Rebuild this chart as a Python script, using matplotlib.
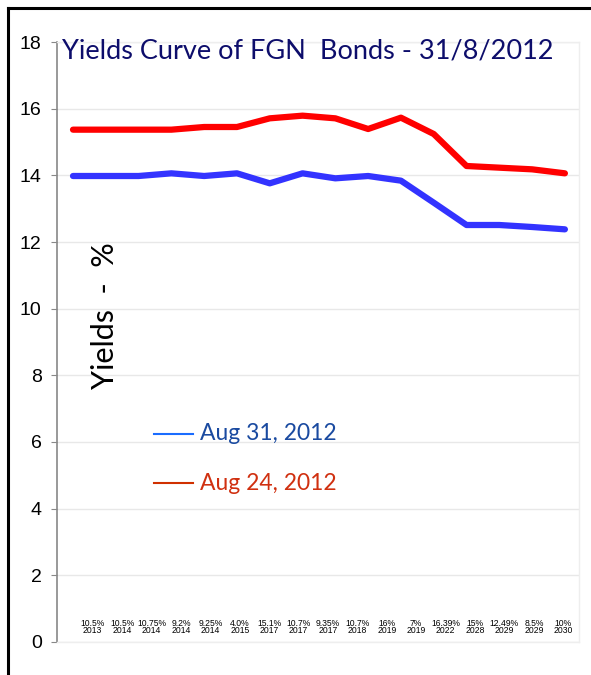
import matplotlib
matplotlib.use("Agg")
import matplotlib.pyplot as plt
from matplotlib.lines import Line2D

# yields, one point per bond
aug31 = [13.98, 13.98, 13.98, 14.06, 13.98, 14.06, 13.76, 14.06,
         13.91, 13.98, 13.84, 13.18, 12.51, 12.51, 12.45, 12.38]
aug24 = [15.37, 15.37, 15.37, 15.37, 15.45, 15.45, 15.71, 15.79,
         15.71, 15.39, 15.73, 15.24, 14.28, 14.23, 14.18, 14.06]

bond_labels = ["10.5%\n2013", "10.5%\n2014", "10.75%\n2014", "9.2%\n2014",
               "9.25%\n2014", "4.0%\n2015", "15.1%\n2017", "10.7%\n2017",
               "9.35%\n2017", "10.7%\n2018", "16%\n2019", "7%\n2019",
               "16.39%\n2022", "15%\n2028", "12.49%\n2029", "8.5%\n2029",
               "10%\n2030"]

yticks = [0, 2, 4, 6, 8, 10, 12, 14, 16, 18]

fig = plt.figure(figsize=(5.91, 6.75), dpi=100)
ax = fig.add_axes([57/591, 33/675, 522/591, 600/675])

x = list(range(len(aug31)))
ax.plot(x, aug31, color="#3333ff", lw=4.5, solid_capstyle="round")
ax.plot(x, aug24, color="#ff0000", lw=4.5, solid_capstyle="round")

ax.set_xlim(-0.488, 15.43)
ax.set_ylim(0, 18)
ax.set_yticks(yticks)
ax.set_yticklabels([str(t) for t in yticks], fontsize=14, family="Liberation Sans")
ax.set_xticks([])
ax.grid(axis="y", color="#e8e8e8", lw=1)
ax.set_axisbelow(True)
for s in ["top", "right", "bottom"]:
    ax.spines[s].set_color("#eeeeee")
    ax.spines[s].set_linewidth(1)
ax.spines["left"].set_color("#888888")
ax.spines["left"].set_linewidth(1.2)
ax.tick_params(axis="y", length=4, color="#888888", pad=7)

# bond labels along the bottom
n = len(bond_labels)
for i, lab in enumerate(bond_labels):
    xp = 0.6 + i * (14.95 - 0.6) / (n - 1)
    ax.text(xp, 0.45, lab, ha="center", va="center", fontsize=6.2,
            family="Liberation Sans", linespacing=0.85)

# y label inside the plot
ax.text(0.98, 9.8, "Yields  -  %", rotation=90, ha="center", va="center",
        fontsize=22, family="Lato")

# hand-made legend
ax.plot([2.47, 3.66], [6.24, 6.24], color="#1a6cff", lw=1.5)
ax.plot([2.47, 3.66], [4.77, 4.77], color="#d03000", lw=1.5)
ax.text(3.87, 6.24, "Aug 31, 2012", color="#1a4aa0", fontsize=16.5,
        family="Lato", va="center")
ax.text(3.87, 4.77, "Aug 24, 2012", color="#d03010", fontsize=16.5,
        family="Lato", va="center")

fig.text(62/591, 1 - 59/675, "Yields Curve of FGN  Bonds - 31/8/2012",
         color="#0d0d6b", fontsize=19.5, family="Lato", va="baseline")

# black frame on top and left
fig.add_artist(Line2D([8/591, 1], [1 - 8/675, 1 - 8/675], color="black", lw=2.2))
fig.add_artist(Line2D([8/591, 8/591], [0, 1 - 8/675], color="black", lw=2.2))

fig.savefig("out.png", dpi=100)
